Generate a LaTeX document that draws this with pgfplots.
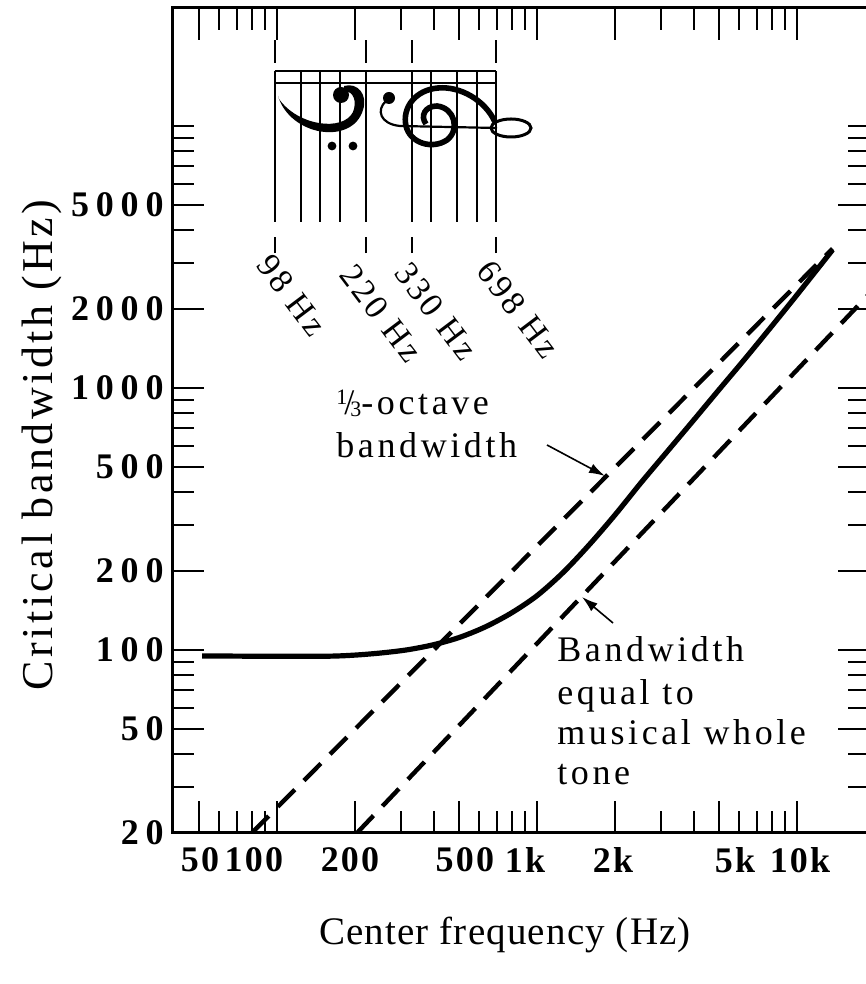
\documentclass[border=0pt]{standalone}
\usepackage{pgfplots}
\pgfplotsset{compat=1.18}
\usetikzlibrary{arrows.meta}
\usepackage{fontspec}
\setmainfont{Liberation Serif}
\newfontface\ytfont{Liberation Serif Bold}[LetterSpace=19]
\newfontface\xtfont{Liberation Serif Bold}[LetterSpace=6]
\newfontface\annfont{Liberation Serif}[LetterSpace=10]
\newfontface\ylabfont{Liberation Serif}[LetterSpace=8]
\newfontface\xlabfont{Liberation Serif}[LetterSpace=3]
\begin{document}
\begin{tikzpicture}
\begin{axis}[
  name=ax,
  xmode=log, ymode=log,
  scale only axis,
  width=349pt, height=412.5pt,
  xmin=39.47, xmax=19090, ymin=20, ymax=28180,
  axis line style={line width=1.5pt},
  tick style={line width=1pt, black},
  major tick length=16pt, minor tick length=11pt,
  tick align=inside,
  xtick={50,100,200,500,1000,2000,5000,10000},
  xticklabels={},
  minor xtick={60,70,80,90,300,400,600,700,800,900,3000,4000,6000,7000,8000,9000},
  extra x ticks={50.6,81.5,190.9,528,899,1960,5775,10270},
  extra x tick labels={50,100,200,500,1k,2k,5k,10k},
  extra x tick style={major tick length=0pt, major tick style={draw=none},
     xticklabel style={font=\xtfont\fontsize{18pt}{21pt}\selectfont, inner sep=0pt, anchor=north, yshift=-7pt}},
  ytick={20,50,100,200,500,1000,2000,5000},
  yticklabels={20,50,100,200,500,1000,2000,5000},
  minor ytick={30,40,60,70,80,90,300,400,600,700,800,900,3000,4000,6000,7000,8000,9000,10000},
  yticklabel style={font=\ytfont\fontsize{18pt}{21pt}\selectfont, inner sep=0pt, anchor=east, xshift=-4pt},
]
% critical bandwidth
\addplot[line width=2.6pt, smooth] coordinates {
 (51.5,94.8) (100,94.5) (158.5,94.6) (199.5,95.5) (251.2,97.3) (316.2,100)
 (398.1,104.5) (501.2,111.4) (631,122.2) (794.3,138) (1000,161) (1259,197.2)
 (1585,251.2) (1995,327.3) (2512,434.5) (3162,570) (3981,748) (5012,984)
 (6310,1291) (7943,1706) (10000,2265) (13710,3365)};
% 1/3-octave bandwidth
\addplot[line width=2.2pt, dash pattern=on 12pt off 6.5pt] coordinates {(80,20) (13700,3400)};
% whole tone
\addplot[line width=2.2pt, dash pattern=on 12pt off 6.5pt] coordinates {(203,20) (19090,2300)};
% staff lines of inset
\foreach \f in {98,123.5,146.8,174.6,220,329.6,392,493.9,587.3,698.5}{
  \edef\temp{\noexpand\draw[line width=1pt] (axis cs:\f,4300) -- (axis cs:\f,16200);}
  \temp
}
\draw[line width=1pt] (axis cs:98,16200) -- (axis cs:698.5,16200);
\draw[line width=1pt] (axis cs:98,14575) -- (axis cs:698.5,14575);
\foreach \f in {98,220,329.6,698.5}{
  \edef\temp{\noexpand\draw[line width=1pt] (axis cs:\f,17400) -- (axis cs:\f,21270);
             \noexpand\draw[line width=1pt] (axis cs:\f,3270) -- (axis cs:\f,3770);}
  \temp
}
\end{axis}
\begin{scope}[shift={(ax.south west)}, xshift=-86pt, yshift=416.5pt, x=0.5pt, y=-0.5pt]
 % bass clef (rotated)
 \fill (278,96) .. controls (290,136) and (352,146) .. (363,110) .. controls (368,95) and (358,82) .. (344,86)
   -- (344,91) .. controls (354,91) and (357,102) .. (353,112) .. controls (343,132) and (298,126) .. (279,99) -- cycle;
 \fill (341,95) circle (4pt);
 \fill (332,146) circle (2.2pt);
 \fill (353,146) circle (2.2pt);
 % treble clef (rotated)
 \fill (389,98) circle (3pt);
 \draw[line width=1.1pt] (386,101) .. controls (376,110) and (380,124) .. (400,126) -- (497,128);
 \draw[line width=2.8pt] (495,122) .. controls (485,100) and (460,86) .. (438,88) .. controls (415,90) and (402,108) .. (406,126)
    .. controls (410,143) and (432,150) .. (447,140) .. controls (460,130) and (455,108) .. (437,106)
    .. controls (425,106) and (420,116) .. (426,124);
 \draw[line width=1.5pt] (511,128) ellipse [x radius=10pt, y radius=4.5pt];
 % rotated note labels
 \begin{scope}[font=\annfont\fontsize{17pt}{20pt}\selectfont]
 \node[rotate=-53, anchor=west, inner sep=0pt] at (264,258) {98 Hz};
 \node[rotate=-53, anchor=west, inner sep=0pt] at (347,268) {220 Hz};
 \node[rotate=-53, anchor=west, inner sep=0pt] at (402,266) {330 Hz};
 \node[rotate=-53, anchor=west, inner sep=0pt] at (484,264) {698 Hz};
 \end{scope}
 % annotations
 \begin{scope}[font=\annfont\fontsize{18pt}{21pt}\selectfont]
 \node[anchor=base west, inner sep=0pt] at (336,415) {{\fontsize{11pt}{11pt}\selectfont\raisebox{5pt}{1}}\kern-1.5pt/\kern-2pt{\fontsize{11pt}{11pt}\selectfont\raisebox{-1pt}{3}}-octave};
 \node[anchor=base west, inner sep=0pt] at (336,458) {bandwidth};
 \node[anchor=base west, inner sep=0pt] at (557,662) {Bandwidth};
 \node[anchor=base west, inner sep=0pt] at (557,705) {equal to};
 \node[anchor=base west, inner sep=0pt] at (557,745) {musical whole};
 \node[anchor=base west, inner sep=0pt] at (557,785) {tone};
 \end{scope}
 \draw[line width=0.8pt, -{Latex[length=8pt,width=5pt]}] (547,445) -- (605,476);
 \draw[line width=0.8pt, -{Latex[length=8pt,width=5pt]}] (613,623) -- (582,597);
 % axis labels
 \node[rotate=90, font=\ylabfont\fontsize{22pt}{26pt}\selectfont] at (42,445) {Critical bandwidth (Hz)};
 \node[font=\xlabfont\fontsize{19.5pt}{24pt}\selectfont] at (505,935) {Center frequency (Hz)};
 \pgfresetboundingbox
 \path[use as bounding box] (0,0) rectangle (866,984);
\end{scope}
\end{tikzpicture}
\end{document}
